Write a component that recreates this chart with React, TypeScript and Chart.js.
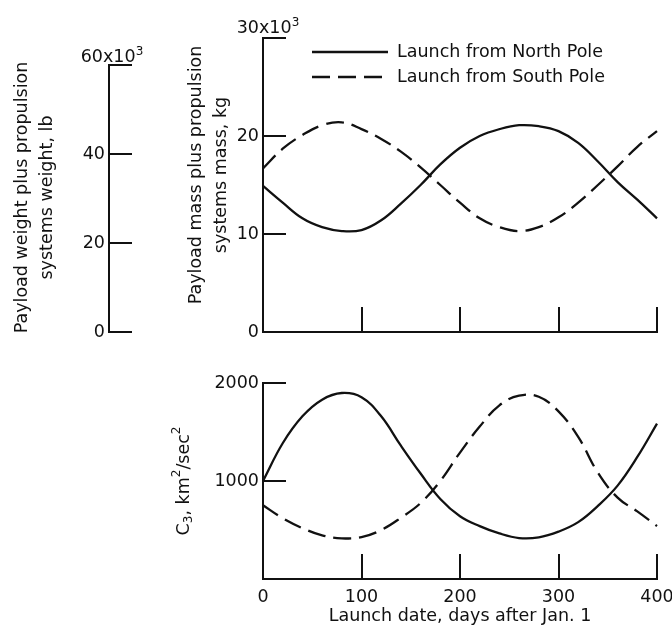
import React, { useEffect, useRef } from 'react';
import { Chart, registerables } from 'chart.js';

Chart.register(...registerables);

// ---------------- data ----------------
const days = [0, 20, 40, 60, 80, 100, 120, 140, 160, 180, 200, 220, 240, 260, 280, 300, 320, 340, 360, 380, 400];
const southDays = [0, 20, 40, 60, 80, 100, 120, 140, 160, 180, 200, 220, 240, 260, 280, 300, 320, 340, 360, 380, 400, 408];

// payload + propulsion mass, 10^3 kg
const northMass = [14.9, 13.2, 11.6, 10.7, 10.3, 10.4, 11.4, 13.1, 15.0, 17.1, 18.8, 20.0, 20.7, 21.1, 21.0, 20.5, 19.3, 17.4, 15.3, 13.5, 11.6];
const southMass = [16.7, 18.7, 20.1, 21.1, 21.4, 20.7, 19.7, 18.4, 16.8, 15.0, 13.2, 11.6, 10.7, 10.3, 10.7, 11.7, 13.2, 15.0, 16.9, 18.9, 20.5, 21.1];

// C3, km^2/sec^2
const northC3 = [1000, 1385, 1660, 1830, 1898, 1855, 1660, 1360, 1076, 817, 641, 540, 465, 418, 425, 483, 580, 746, 953, 1245, 1585];
const southC3 = [752, 620, 519, 445, 415, 428, 500, 625, 775, 1000, 1290, 1555, 1772, 1870, 1860, 1710, 1450, 1085, 830, 690, 540];

const dayTicks = [0, 100, 200, 300, 400];
const kgTicks = [0, 10, 20, 30];
const lbTicks = [0, 20, 40, 60];
const c3Ticks = [0, 1000, 2000];

const legendLabels = ['Launch from North Pole', 'Launch from South Pole'];
const lbTitle = ['Payload weight plus propulsion', 'systems weight, lb'];
const kgTitle = ['Payload mass plus propulsion', 'systems mass, kg'];
const xTitle = 'Launch date, days after Jan. 1';

// ---------------- style ----------------
const FONT = '"DejaVu Sans", sans-serif';
const FS = 17.5;
const INK = '#111111';
const DASH = [18, 8];

type Seg = { t: string; k?: 'sup' | 'sub' };

function drawRich(ctx: CanvasRenderingContext2D, segs: Seg[], x: number, y: number, size: number, align: 'left' | 'center' | 'right') {
  const small = Math.round(size * 0.7);
  const widths = segs.map((s) => {
    ctx.font = `${s.k ? small : size}px ${FONT}`;
    return ctx.measureText(s.t).width;
  });
  const total = widths.reduce((a, b) => a + b, 0);
  let cx = align === 'left' ? x : align === 'center' ? x - total / 2 : x - total;
  ctx.textAlign = 'left';
  segs.forEach((s, i) => {
    ctx.font = `${s.k ? small : size}px ${FONT}`;
    const dy = s.k === 'sup' ? -size * 0.42 : s.k === 'sub' ? size * 0.3 : 0;
    ctx.fillText(s.t, cx, y + dy);
    cx += widths[i];
  });
}

function drawRotated(ctx: CanvasRenderingContext2D, segs: Seg[], cx: number, cy: number, size: number) {
  ctx.save();
  ctx.translate(cx, cy);
  ctx.rotate(-Math.PI / 2);
  ctx.textBaseline = 'middle';
  drawRich(ctx, segs, 0, 0, size, 'center');
  ctx.restore();
}

function resetPad(s: any) {
  s.paddingTop = 0;
  s.paddingBottom = 0;
  s.paddingLeft = 0;
  s.paddingRight = 0;
}

function axisY(min: number, max: number, vals: number[], width: number, label: (v: number) => string) {
  return {
    position: 'left',
    min,
    max,
    afterBuildTicks: (s: any) => {
      s.ticks = vals.map((v) => ({ value: v }));
    },
    afterFit: (s: any) => {
      s.width = width;
      resetPad(s);
    },
    grid: { drawOnChartArea: false, drawTicks: true, tickLength: -23, color: INK, lineWidth: 2 },
    border: { display: true, color: INK, width: 2 },
    ticks: { padding: 27, color: INK, font: { family: FONT, size: FS }, autoSkip: false, callback: (v: any) => label(Number(v)) },
  };
}

function axisX(showLabels: boolean, height: number, title?: string) {
  return {
    type: 'linear',
    position: 'bottom',
    min: 0,
    max: 400,
    afterBuildTicks: (s: any) => {
      s.ticks = dayTicks.map((v) => ({ value: v }));
    },
    afterFit: (s: any) => {
      s.height = height;
      resetPad(s);
    },
    grid: { drawOnChartArea: false, drawTicks: true, tickLength: -25, color: INK, lineWidth: 2 },
    border: { display: true, color: INK, width: 2 },
    ticks: { display: showLabels, padding: 33, color: INK, font: { family: FONT, size: FS }, autoSkip: false, maxRotation: 0 },
    title: title
      ? { display: true, text: title, color: INK, font: { family: FONT, size: FS }, padding: { top: 0, bottom: 8 } }
      : { display: false },
  };
}

function lineDs(label: string, xs: number[], ys: number[], dashed: boolean) {
  return {
    label,
    data: xs.map((x, i) => ({ x, y: ys[i] })),
    borderColor: INK,
    borderWidth: 2.3,
    borderDash: dashed ? DASH : [],
    pointRadius: 0,
    tension: 0.4,
    fill: false,
    clip: false as any,
  };
}

const baseOptions = {
  responsive: false,
  maintainAspectRatio: false,
  animation: false,
  devicePixelRatio: 1,
  events: [] as any[],
  plugins: { legend: { display: false }, tooltip: { enabled: false } },
};

function LbAxis() {
  const ref = useRef<HTMLCanvasElement | null>(null);
  useEffect(() => {
    if (!ref.current) return;
    const decor = {
      id: 'lbDecor',
      afterDraw(chart: any) {
        const { ctx, chartArea: a, scales } = chart;
        ctx.save();
        ctx.fillStyle = INK;
        ctx.textBaseline = 'alphabetic';
        const top = lbTicks[lbTicks.length - 1];
        const yTop = scales.y.getPixelForValue(top);
        drawRich(ctx, [{ t: `${top}x10` }, { t: '3', k: 'sup' }], a.left + 3, yTop - 3, FS, 'center');
        const cy = (a.top + a.bottom) / 2 - 1;
        drawRotated(ctx, [{ t: lbTitle[0] }], a.left - 87, cy, FS);
        drawRotated(ctx, [{ t: lbTitle[1] }], a.left - 62, cy, FS);
        ctx.restore();
      },
    };
    const chart = new Chart(ref.current, {
      type: 'line',
      data: { datasets: [] },
      options: {
        ...baseOptions,
        layout: { padding: { left: 0, right: 10, top: 65, bottom: 13 } },
        scales: {
          x: { type: 'linear', display: false, min: 0, max: 1 },
          y: axisY(0, 60, lbTicks, 109, (v) => (v === 60 ? '' : String(v))),
        },
      } as any,
      plugins: [decor],
    });
    return () => chart.destroy();
  }, []);
  return <canvas ref={ref} width={150} height={345} style={{ position: 'absolute', left: 0, top: 0, width: 150, height: 345 }} />;
}

function MassChart() {
  const ref = useRef<HTMLCanvasElement | null>(null);
  useEffect(() => {
    if (!ref.current) return;
    const decor = {
      id: 'massDecor',
      afterDraw(chart: any) {
        const { ctx, chartArea: a, scales } = chart;
        ctx.save();
        ctx.fillStyle = INK;
        ctx.strokeStyle = INK;
        ctx.textBaseline = 'alphabetic';
        const top = kgTicks[kgTicks.length - 1];
        const yTop = scales.y.getPixelForValue(top);
        drawRich(ctx, [{ t: `${top}x10` }, { t: '3', k: 'sup' }], a.left + 5, yTop - 5, FS, 'center');
        const cy = (a.top + a.bottom) / 2 - 10;
        drawRotated(ctx, [{ t: kgTitle[0] }], a.left - 67, cy, FS);
        drawRotated(ctx, [{ t: kgTitle[1] }], a.left - 42, cy, FS);
        // legend
        const rows = [a.top + 14, a.top + 39];
        rows.forEach((ry, i) => {
          ctx.beginPath();
          ctx.lineWidth = 2.3;
          ctx.setLineDash(i === 1 ? DASH : []);
          ctx.moveTo(a.left + 49, ry);
          ctx.lineTo(a.left + 125, ry);
          ctx.stroke();
          ctx.setLineDash([]);
          ctx.textBaseline = 'middle';
          ctx.font = `${FS}px ${FONT}`;
          ctx.textAlign = 'left';
          ctx.fillText(legendLabels[i], a.left + 134, ry);
        });
        ctx.restore();
      },
    };
    const chart = new Chart(ref.current, {
      type: 'line',
      data: {
        datasets: [
          lineDs(legendLabels[0], days, northMass, false),
          lineDs(legendLabels[1], southDays, southMass, true),
        ],
      },
      options: {
        ...baseOptions,
        layout: { padding: { left: 0, right: 15, top: 38, bottom: 0 } },
        scales: {
          x: axisX(false, 13),
          y: axisY(0, 30, kgTicks, 118, (v) => (v === 30 ? '' : String(v))),
        },
      } as any,
      plugins: [decor],
    });
    return () => chart.destroy();
  }, []);
  return <canvas ref={ref} width={527} height={345} style={{ position: 'absolute', left: 145, top: 0, width: 527, height: 345 }} />;
}

function C3Chart() {
  const ref = useRef<HTMLCanvasElement | null>(null);
  useEffect(() => {
    if (!ref.current) return;
    const decor = {
      id: 'c3Decor',
      afterDraw(chart: any) {
        const { ctx, chartArea: a } = chart;
        ctx.save();
        ctx.fillStyle = INK;
        const cy = (a.top + a.bottom) / 2;
        drawRotated(
          ctx,
          [{ t: 'C' }, { t: '3', k: 'sub' }, { t: ', km' }, { t: '2', k: 'sup' }, { t: '/sec' }, { t: '2', k: 'sup' }],
          a.left - 79,
          cy,
          FS
        );
        ctx.restore();
      },
    };
    const chart = new Chart(ref.current, {
      type: 'line',
      data: {
        datasets: [
          lineDs(legendLabels[0], days, northC3, false),
          lineDs(legendLabels[1], days, southC3, true),
        ],
      },
      options: {
        ...baseOptions,
        layout: { padding: { left: 0, right: 15, top: 38, bottom: 0 } },
        scales: {
          x: axisX(true, 56, xTitle),
          y: axisY(0, 2000, c3Ticks, 118, (v) => (v === 0 ? '' : String(v))),
        },
      } as any,
      plugins: [decor],
    });
    return () => chart.destroy();
  }, []);
  return <canvas ref={ref} width={527} height={290} style={{ position: 'absolute', left: 145, top: 345, width: 527, height: 290 }} />;
}

export default function App() {
  return (
    <div style={{ position: 'absolute', left: 0, top: 0, width: 672, height: 635, background: '#ffffff', overflow: 'hidden' }}>
      <LbAxis />
      <MassChart />
      <C3Chart />
    </div>
  );
}
